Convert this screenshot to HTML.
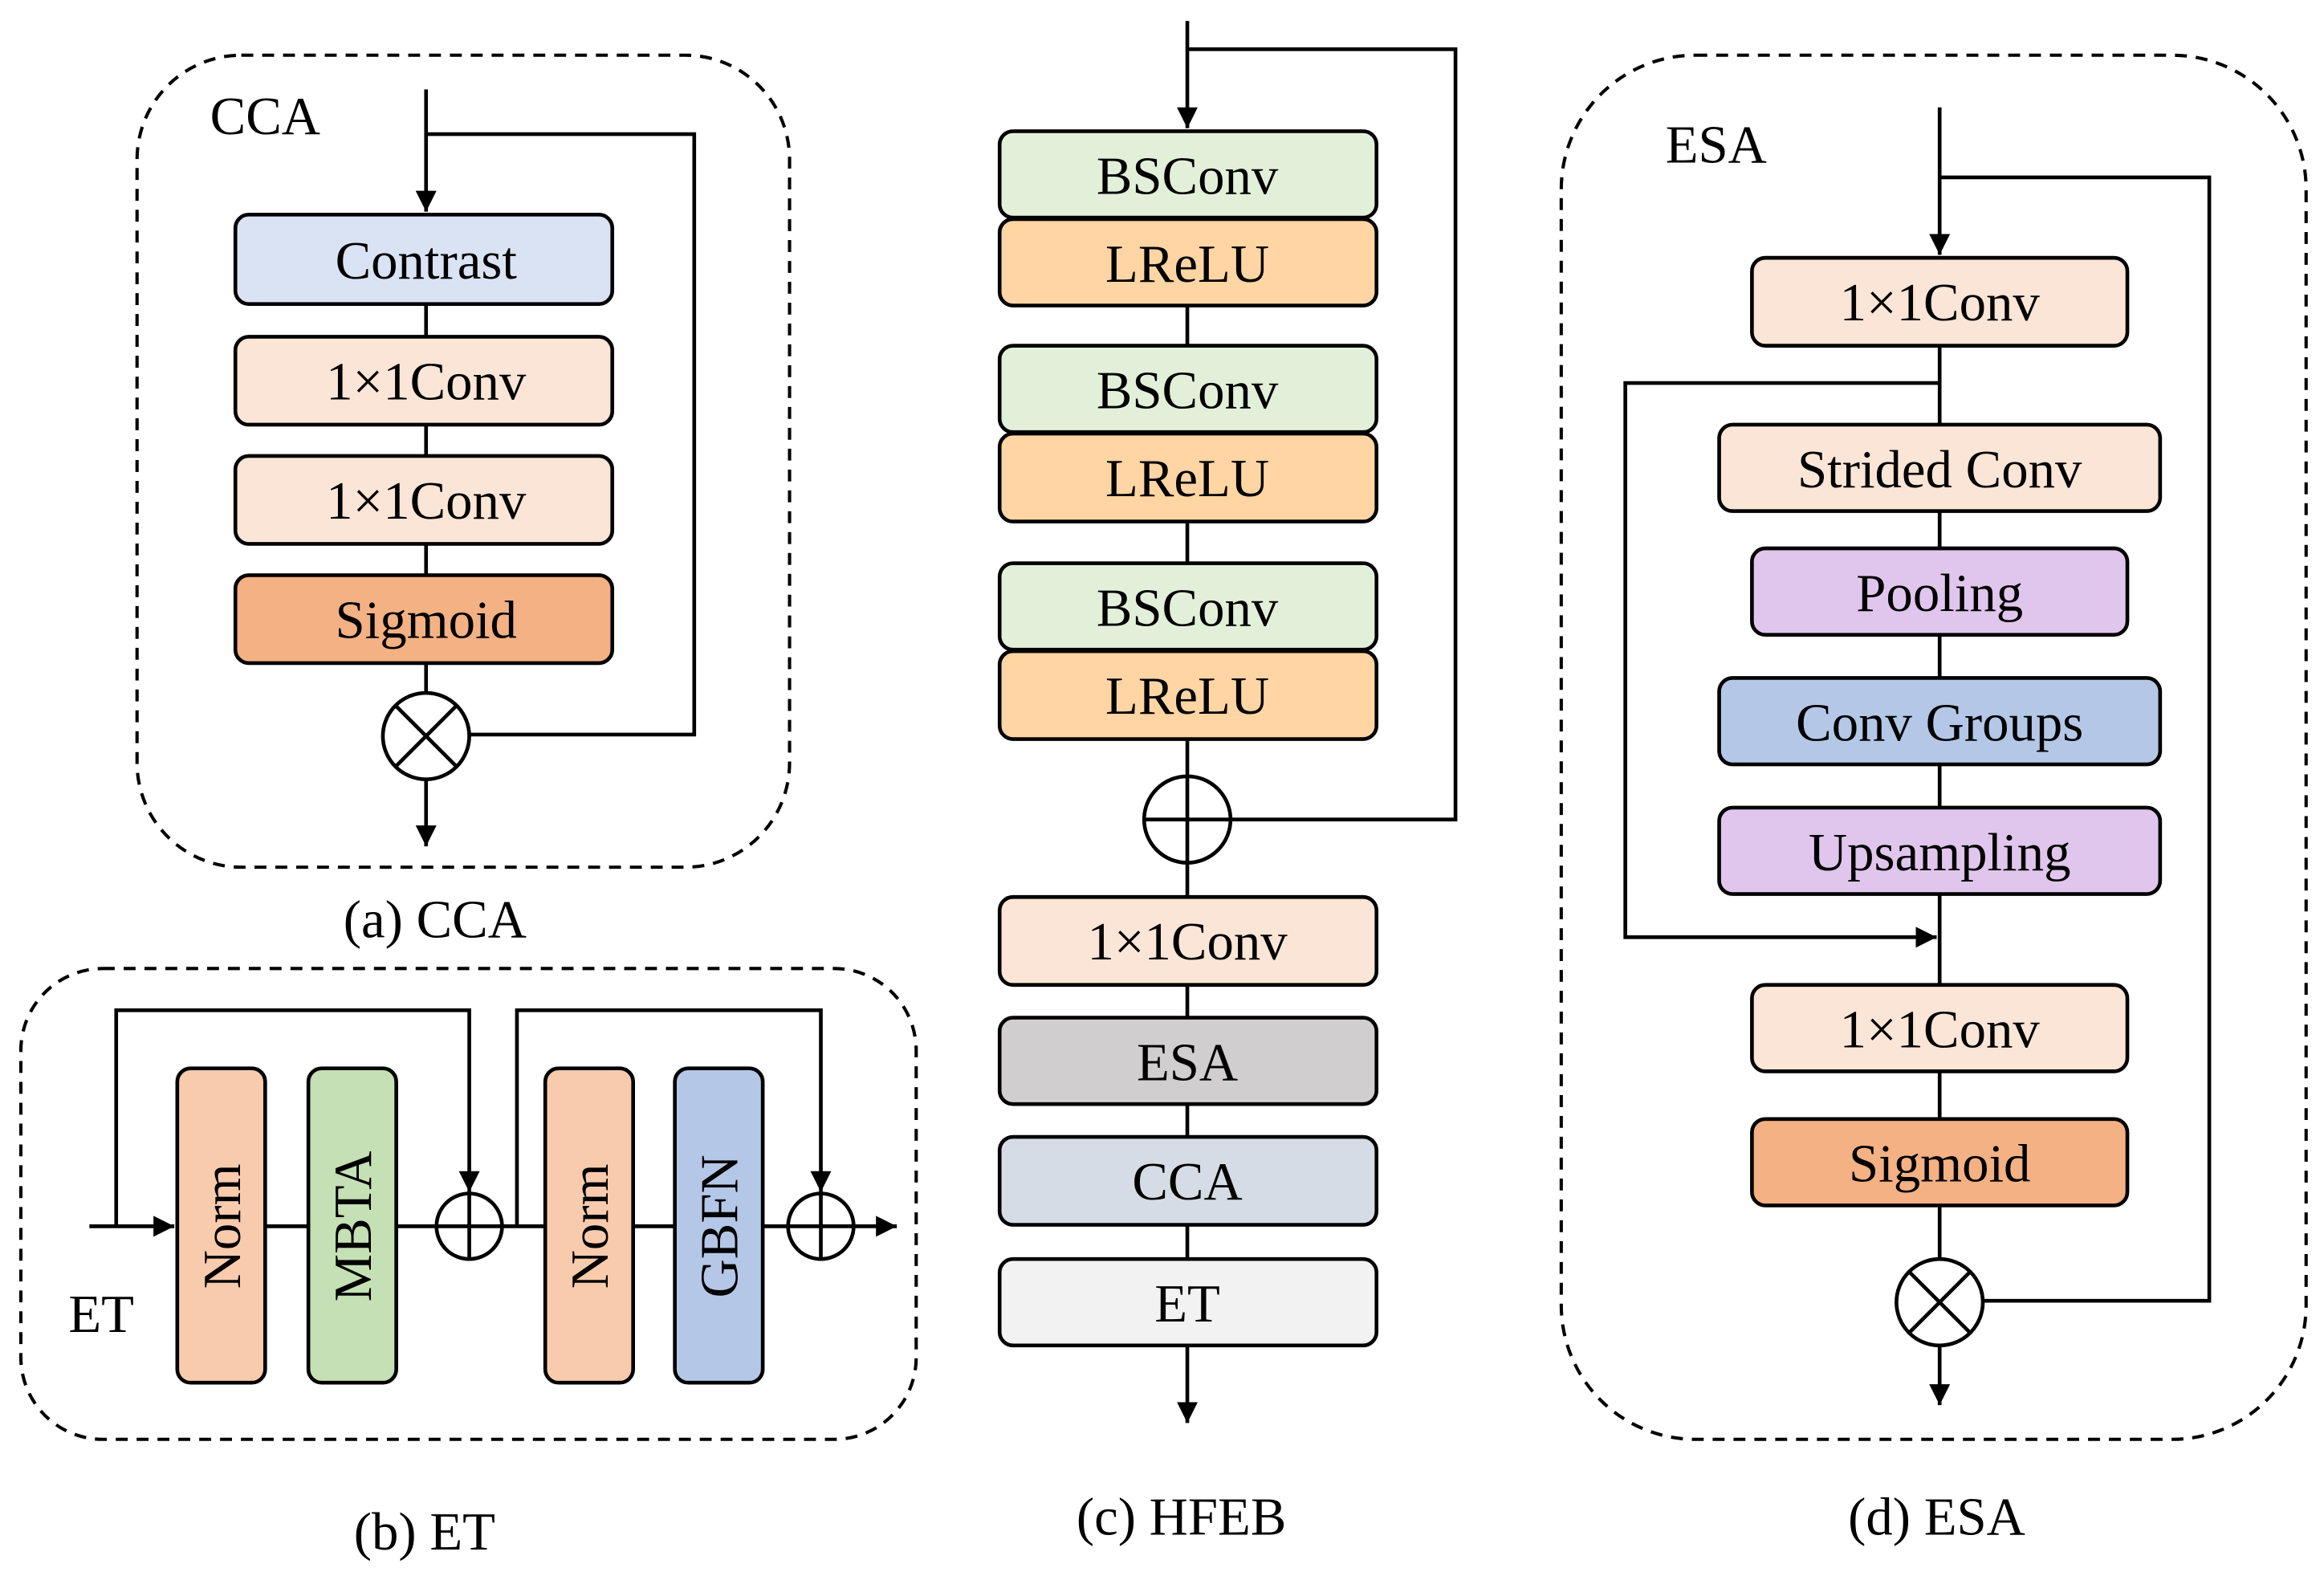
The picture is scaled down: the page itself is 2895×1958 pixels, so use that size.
<!DOCTYPE html>
<html><head><meta charset="utf-8"><style>
html,body{margin:0;padding:0;background:#fff;}
svg{display:block;}
text{font-family:"Liberation Serif",serif;fill:#000;}
</style></head><body>
<svg width="2895" height="1958" viewBox="0 0 1560 1055" xmlns="http://www.w3.org/2000/svg">
<defs>
<marker id="ar" markerWidth="10" markerHeight="10" refX="9" refY="5" orient="auto" markerUnits="userSpaceOnUse"><path d="M0,0 L10,5 L0,10 z" fill="#000"/></marker>
<marker id="ah" viewBox="0 0 10 10" markerWidth="14" markerHeight="14" refX="10" refY="5" orient="auto" markerUnits="userSpaceOnUse"><path d="M0,0 L10,5 L0,10 z" fill="#000"/></marker>
</defs>
<g fill="none" stroke="#000" stroke-width="2.2" stroke-dasharray="8,6">
<rect x="92" y="37" width="438" height="545" rx="70"/>
<rect x="14" y="650" width="601" height="316" rx="55"/>
<rect x="1048" y="37" width="500" height="929" rx="90"/>
</g>
<g stroke="#000" stroke-width="2.5" fill="none">
<!-- CCA -->
<polyline points="286,60 286,142" marker-end="url(#ah)"/>
<polyline points="286,90 466,90 466,493 314,493"/>
<line x1="286" y1="204" x2="286" y2="465"/>
<line x1="286" y1="523" x2="286" y2="568" marker-end="url(#ah)"/>
<!-- ET -->
<line x1="60" y1="823" x2="117" y2="823" marker-end="url(#ah)"/>
<line x1="178" y1="823" x2="293" y2="823"/>
<line x1="337" y1="823" x2="529" y2="823"/>
<line x1="573" y1="823" x2="602" y2="823" marker-end="url(#ah)"/>
<polyline points="78,823 78,678 315,678 315,800" marker-end="url(#ah)"/>
<polyline points="347,823 347,678 551,678 551,800" marker-end="url(#ah)"/>
<!-- HFEB -->
<line x1="797" y1="14" x2="797" y2="86" marker-end="url(#ah)"/>
<polyline points="797,33 977,33 977,550 826,550"/>
<line x1="797" y1="146" x2="797" y2="521"/>
<line x1="797" y1="579" x2="797" y2="955" marker-end="url(#ah)"/>
<!-- ESA -->
<line x1="1302" y1="72" x2="1302" y2="171" marker-end="url(#ah)"/>
<polyline points="1302,119 1483,119 1483,873 1331,873"/>
<line x1="1302" y1="232" x2="1302" y2="845"/>
<polyline points="1302,257 1091,257 1091,629 1300,629" marker-end="url(#ah)"/>
<line x1="1302" y1="903" x2="1302" y2="943" marker-end="url(#ah)"/>
</g>
<g stroke="#000" stroke-width="2.5">
<!-- CCA boxes -->
<rect x="158" y="144" width="253" height="60" rx="9" fill="#dae3f3"/>
<rect x="158" y="226" width="253" height="59" rx="9" fill="#fbe5d6"/>
<rect x="158" y="306" width="253" height="59" rx="9" fill="#fbe5d6"/>
<rect x="158" y="386" width="253" height="59" rx="9" fill="#f4b183"/>
<!-- ET boxes -->
<rect x="119" y="717" width="59" height="211" rx="9" fill="#f8cbad"/>
<rect x="207" y="717" width="59" height="211" rx="9" fill="#c5e0b4"/>
<rect x="366" y="717" width="59" height="211" rx="9" fill="#f8cbad"/>
<rect x="453" y="717" width="59" height="211" rx="9" fill="#b4c7e7"/>
<!-- HFEB boxes -->
<rect x="671" y="88" width="253" height="58" rx="9" fill="#e2f0d9"/>
<rect x="671" y="147" width="253" height="58" rx="9" fill="#ffd5a3"/>
<rect x="671" y="232" width="253" height="58" rx="9" fill="#e2f0d9"/>
<rect x="671" y="291" width="253" height="59" rx="9" fill="#ffd5a3"/>
<rect x="671" y="378" width="253" height="58" rx="9" fill="#e2f0d9"/>
<rect x="671" y="437" width="253" height="59" rx="9" fill="#ffd5a3"/>
<rect x="671" y="602" width="253" height="59" rx="9" fill="#fbe5d6"/>
<rect x="671" y="683" width="253" height="58" rx="9" fill="#d0cece"/>
<rect x="671" y="763" width="253" height="59" rx="9" fill="#d6dce5"/>
<rect x="671" y="845" width="253" height="58" rx="9" fill="#f2f2f2"/>
<!-- ESA boxes -->
<rect x="1176" y="173" width="252" height="59" rx="9" fill="#fbe5d6"/>
<rect x="1154" y="285" width="296" height="58" rx="9" fill="#fbe5d6"/>
<rect x="1176" y="368" width="252" height="58" rx="9" fill="#e0c6ec"/>
<rect x="1154" y="455" width="296" height="58" rx="9" fill="#b4c7e7"/>
<rect x="1154" y="542" width="296" height="58" rx="9" fill="#e0c6ec"/>
<rect x="1176" y="661" width="252" height="58" rx="9" fill="#fbe5d6"/>
<rect x="1176" y="751" width="252" height="58" rx="9" fill="#f4b183"/>
<!-- circles -->
<circle cx="286" cy="494" r="29" fill="#fff"/>
<path d="M265.5,473.5 L306.5,514.5 M306.5,473.5 L265.5,514.5" fill="none"/>
<circle cx="315" cy="823" r="22" fill="#fff"/>
<path d="M293,823 H337 M315,801 V845" fill="none"/>
<circle cx="551" cy="823" r="22" fill="#fff"/>
<path d="M529,823 H573 M551,801 V845" fill="none"/>
<circle cx="797" cy="550" r="29" fill="#fff"/>
<path d="M768,550 H826 M797,521 V579" fill="none"/>
<circle cx="1302" cy="874" r="29" fill="#fff"/>
<path d="M1281.5,853.5 L1322.5,894.5 M1322.5,853.5 L1281.5,894.5" fill="none"/>
</g>
<g font-size="36" text-anchor="middle">
<text x="178" y="90">CCA</text>
<text x="286" y="187">Contrast</text>
<text x="286" y="268">1×1Conv</text>
<text x="286" y="348">1×1Conv</text>
<text x="286" y="428">Sigmoid</text>
<text x="292" y="629">(a) CCA</text>
<text x="68" y="894">ET</text>
<text x="285" y="1040">(b) ET</text>
<text transform="translate(161,823) rotate(-90)">Norm</text>
<text transform="translate(249,823) rotate(-90)">MBTA</text>
<text transform="translate(408,823) rotate(-90)">Norm</text>
<text transform="translate(495,823) rotate(-90)">GBFN</text>
<text x="797" y="130">BSConv</text>
<text x="797" y="189">LReLU</text>
<text x="797" y="274">BSConv</text>
<text x="797" y="333">LReLU</text>
<text x="797" y="420">BSConv</text>
<text x="797" y="479">LReLU</text>
<text x="797" y="644">1×1Conv</text>
<text x="797" y="725">ESA</text>
<text x="797" y="805">CCA</text>
<text x="797" y="887">ET</text>
<text x="793" y="1030">(c) HFEB</text>
<text x="1152" y="109">ESA</text>
<text x="1302" y="215">1×1Conv</text>
<text x="1302" y="327">Strided Conv</text>
<text x="1302" y="410">Pooling</text>
<text x="1302" y="497">Conv Groups</text>
<text x="1302" y="584">Upsampling</text>
<text x="1302" y="703">1×1Conv</text>
<text x="1302" y="793">Sigmoid</text>
<text x="1300" y="1030">(d) ESA</text>
</g>
</svg>
</body></html>
